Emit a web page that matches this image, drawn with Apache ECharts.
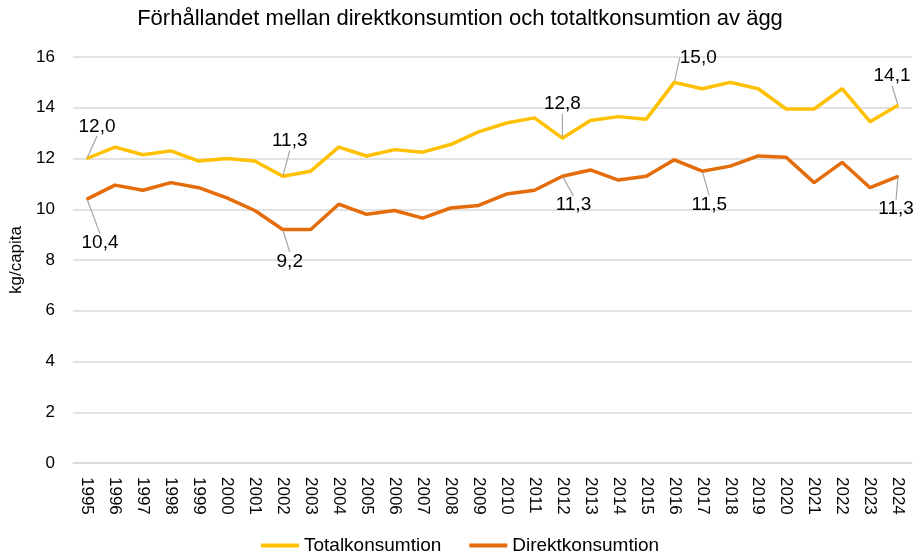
<!DOCTYPE html>
<html>
<head>
<meta charset="utf-8">
<script src="https://cdn.jsdelivr.net/npm/echarts@6/dist/echarts.min.js"></script>
<style>
  html, body { margin: 0; padding: 0; background: #fff; }
  #chart { width: 920px; height: 556px; }
</style>
</head>
<body>
<div id="chart"></div>
<script>
const years = ["1995", "1996", "1997", "1998", "1999", "2000", "2001", "2002", "2003", "2004",
  "2005", "2006", "2007", "2008", "2009", "2010", "2011", "2012", "2013", "2014",
  "2015", "2016", "2017", "2018", "2019", "2020", "2021", "2022", "2023", "2024"];
const totalkonsumtion = [12.0, 12.45, 12.15, 12.3, 11.9, 12.0, 11.9, 11.3, 11.5, 12.45,
  12.1, 12.35, 12.25, 12.55, 13.05, 13.4, 13.6, 12.8, 13.5, 13.65,
  13.55, 15.0, 14.75, 15.0, 14.75, 13.95, 13.95, 14.75, 13.45, 14.1];
const direktkonsumtion = [10.4, 10.95, 10.75, 11.05, 10.85, 10.45, 9.95, 9.2, 9.2, 10.2,
  9.8, 9.95, 9.65, 10.05, 10.15, 10.6, 10.75, 11.3, 11.55, 11.15,
  11.3, 11.95, 11.5, 11.7, 12.1, 12.05, 11.05, 11.85, 10.85, 11.3];
const totalLabelYears = ["1995", "2002", "2012", "2016", "2024"];
const direktLabelYears = ["1995", "2002", "2012", "2017", "2024"];

// label offsets from the point (px)
const totalOffsets = { 0: [10, -32], 7: [7, -35], 17: [0, -34], 21: [24, -25], 29: [-6, -29] };
const direktOffsets = { 0: [13, 44], 7: [7, 32], 17: [11, 29], 22: [7, 34], 29: [-2, 33] };

const fmt = (v) => v.toFixed(1).replace(".", ",");

const toData = (values, labelYears) =>
  values.map((v, i) => ({
    value: v,
    label: { show: labelYears.includes(years[i]) }
  }));

const makeSeries = (name, values, labelYears, color, offsets) => ({
  name: name,
  type: "line",
  data: toData(values, labelYears),
  symbol: "circle",
  symbolSize: 2,
  showAllSymbol: true,
  lineStyle: { color: color, width: 3.5 },
  itemStyle: { color: color },
  label: {
    show: false,
    position: "inside",
    color: "#000",
    fontSize: 19,
    fontFamily: "Liberation Sans, Arial, sans-serif",
    formatter: (p) => fmt(p.value)
  },
  labelLine: { show: true, lineStyle: { color: "#a6a6a6", width: 1.2 } },
  labelLayout: (p) => {
    const o = offsets[p.dataIndex];
    return o ? { dx: o[0], dy: o[1] } : {};
  },
  emphasis: { disabled: true }
});

const chart = echarts.init(document.getElementById("chart"), null, { renderer: "canvas" });
chart.setOption({
  animation: false,
  textStyle: { fontFamily: "Liberation Sans, Arial, sans-serif", color: "#000" },
  title: {
    text: "Förhållandet mellan direktkonsumtion och totaltkonsumtion av ägg",
    left: "center",
    top: 3,
    textStyle: { fontSize: 22, fontWeight: "normal", color: "#000" }
  },
  legend: {
    top: 531,
    left: "center",
    icon: "rect",
    itemWidth: 38,
    itemHeight: 4,
    itemGap: 28,
    textStyle: { fontSize: 19, color: "#000" },
    data: ["Totalkonsumtion", "Direktkonsumtion"]
  },
  grid: { left: 73, right: 8, top: 57, bottom: 93 },
  xAxis: {
    type: "category",
    data: years,
    boundaryGap: true,
    axisLine: { show: true, lineStyle: { color: "#d9d9d9", width: 1.5 } },
    axisTick: { show: false },
    axisLabel: { rotate: -90, fontSize: 17, color: "#000", margin: 14, interval: 0 }
  },
  yAxis: {
    type: "value",
    min: 0,
    max: 16,
    interval: 2,
    name: "kg/capita",
    nameLocation: "middle",
    nameGap: 47,
    nameTextStyle: { fontSize: 17, color: "#000" },
    axisLabel: { fontSize: 17, color: "#000", margin: 18 },
    splitLine: { lineStyle: { color: "#d9d9d9", width: 1.5 } }
  },
  series: [
    makeSeries("Totalkonsumtion", totalkonsumtion, totalLabelYears, "#FFC000", totalOffsets),
    makeSeries("Direktkonsumtion", direktkonsumtion, direktLabelYears, "#E46C0A", direktOffsets)
  ]
});
</script>
</body>
</html>
